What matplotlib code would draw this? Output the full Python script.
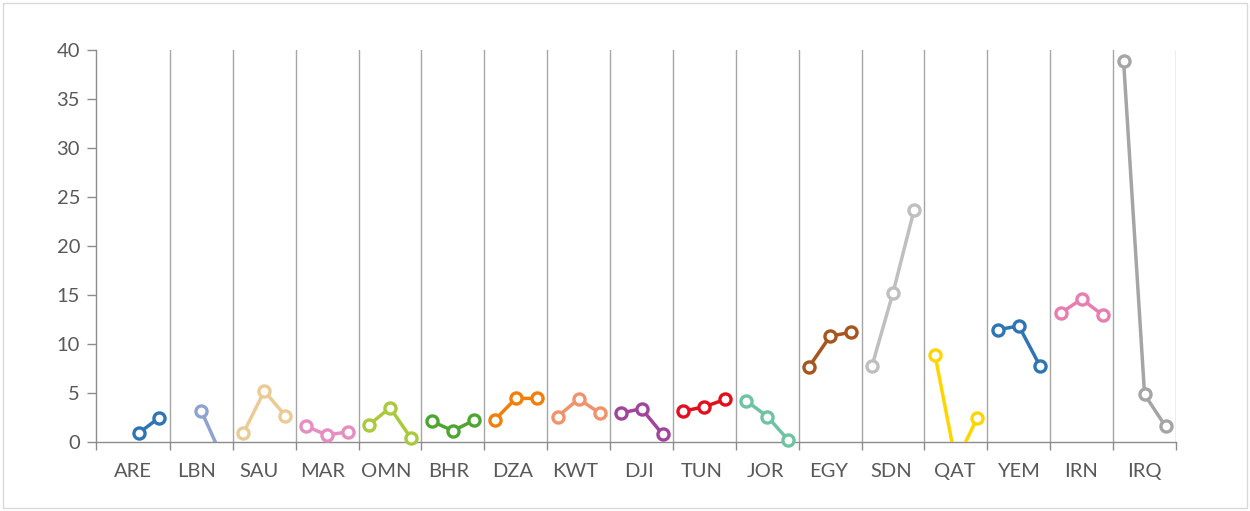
import numpy as np
import matplotlib
matplotlib.use("Agg")
import matplotlib.pyplot as plt
from matplotlib.patches import Rectangle

categories = ["ARE", "LBN", "SAU", "MAR", "OMN", "BHR", "DZA", "KWT", "DJI",
              "TUN", "JOR", "EGY", "SDN", "QAT", "YEM", "IRN", "IRQ"]
nan = np.nan
values = {
    "ARE": [nan, 0.9, 2.5],
    "LBN": [nan, 3.15, -1.6],
    "SAU": [0.9, 5.2, 2.7],
    "MAR": [1.6, 0.7, 1.05],
    "OMN": [1.75, 3.5, 0.4],
    "BHR": [2.1, 1.15, 2.2],
    "DZA": [2.25, 4.45, 4.45],
    "KWT": [2.6, 4.4, 2.95],
    "DJI": [2.95, 3.4, 0.8],
    "TUN": [3.15, 3.6, 4.35],
    "JOR": [4.2, 2.6, 0.2],
    "EGY": [7.7, 10.8, 11.2],
    "SDN": [7.8, 15.25, 23.65],
    "QAT": [8.9, -2.1, 2.4],
    "YEM": [11.45, 11.85, 7.8],
    "IRN": [13.15, 14.6, 12.95],
    "IRQ": [38.85, 4.85, 1.6],
}
colors = {
    "ARE": "#2E75B6", "LBN": "#8FA2D4", "SAU": "#EACB95", "MAR": "#E88DC0",
    "OMN": "#A9CA3C", "BHR": "#4DA631", "DZA": "#F27F07", "KWT": "#F2926A",
    "DJI": "#A0459A", "TUN": "#E2101E", "JOR": "#6DC3A2", "EGY": "#A8541E",
    "SDN": "#BFBFBF", "QAT": "#FFD500", "YEM": "#2E75B6", "IRN": "#E87DB2",
    "IRQ": "#A5A5A5",
}
y_ticks = [0, 5, 10, 15, 20, 25, 30, 35, 40]

W, H = 1250, 511
fig = plt.figure(figsize=(W / 100, H / 100), dpi=100)
fig.patches.append(Rectangle((3 / W, 3 / H), (W - 6) / W, (H - 6) / H,
                             transform=fig.transFigure, fill=False,
                             edgecolor="#d9d9d9", linewidth=1))

ax = fig.add_axes([96 / W, 1 - 442 / H, 1080 / W, 392 / H])
n = len(categories)
ax.set_xlim(0, n)
ax.set_ylim(0, 40)

unit = 1080 / n
g0 = 74 / unit          # first separator
step = 62.9 / unit      # separator spacing
seps = [g0 + k * step for k in range(n)]
label_pos = [(37 + 63.25 * i) / unit for i in range(n)]

font = ["Lato", "DejaVu Sans"]
tick_col = "#595959"
line_col = "#a6a6a6"
axis_col = "#8c8c8c"

for i, cat in enumerate(categories):
    left = g0 + (i - 1) * step
    xs = np.array([left + (j + 0.5) / 3 * step for j in range(3)])
    ys = np.array(values[cat], dtype=float)
    ax.plot(xs, ys, color=colors[cat], lw=2.5, solid_capstyle="butt",
            zorder=3, clip_on=True)
    ym = np.where(ys >= 0, ys, np.nan)
    ax.plot(xs, ym, ls="none", marker="o", ms=8.0, mfc="white",
            mec=colors[cat], mew=2.4, zorder=4, clip_on=False)

for s in seps:
    ax.axvline(s, color=line_col, lw=1.0, zorder=1)

for sp in ["top", "right"]:
    ax.spines[sp].set_visible(False)
for sp in ["left", "bottom"]:
    ax.spines[sp].set_color(axis_col)
    ax.spines[sp].set_linewidth(1.0)

ax.set_yticks(y_ticks)
ax.set_yticklabels([str(t) for t in y_ticks], fontsize=14.5, color=tick_col,
                   family=font)
ax.tick_params(axis="y", length=6.5, width=1, color=axis_col, pad=5)

ax.set_xticks([0] + seps)
ax.set_xticklabels([])
ax.tick_params(axis="x", which="major", length=6, width=1, color=axis_col)
ax.set_xticks(label_pos, minor=True)
ax.set_xticklabels(categories, minor=True, fontsize=14.5, color=tick_col,
                   family=font)
ax.tick_params(axis="x", which="minor", length=0, pad=15)

fig.savefig("out.png", dpi=100)
